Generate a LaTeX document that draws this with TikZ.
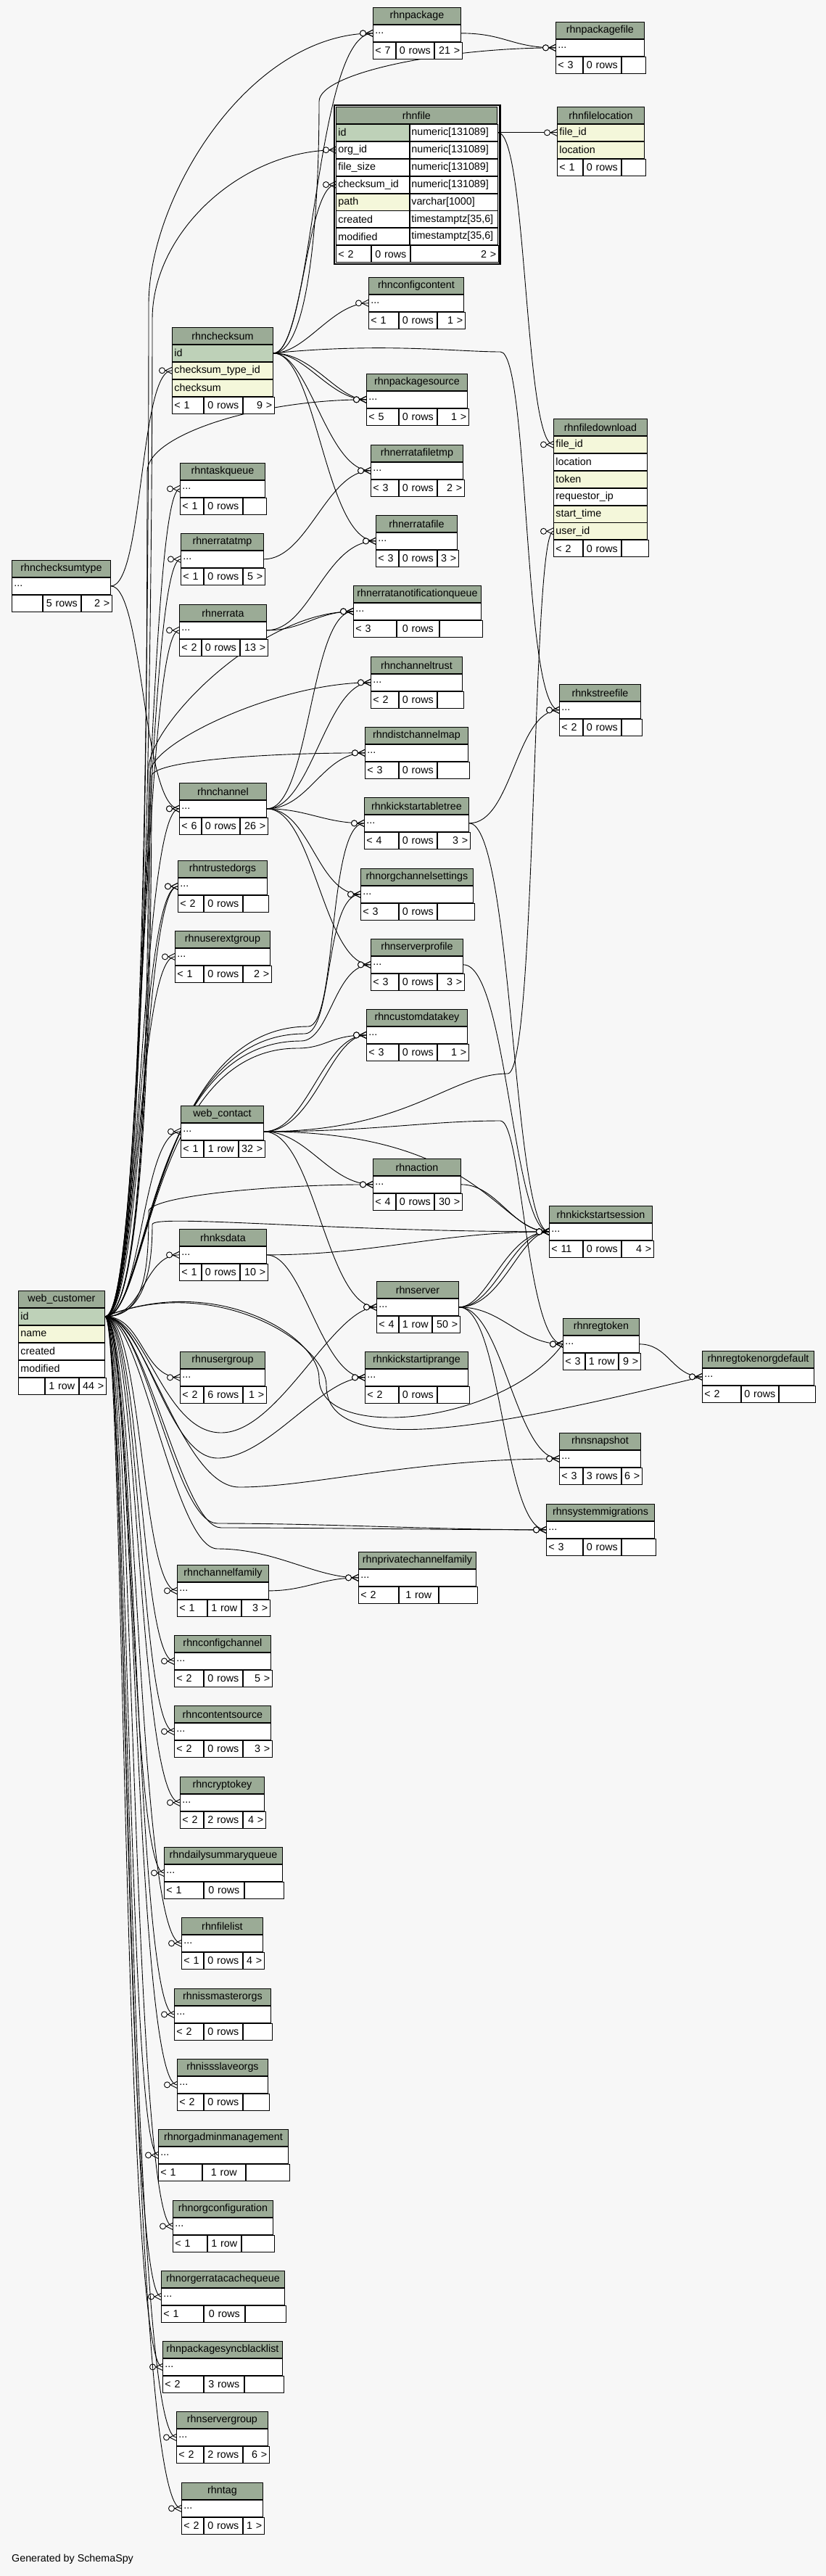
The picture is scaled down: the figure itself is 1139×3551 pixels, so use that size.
\documentclass[tikz,border=0pt]{standalone}
\usepackage{fontspec}
\setmainfont{Liberation Sans}
\definecolor{bgc}{HTML}{F7F7F7}
\definecolor{hd}{HTML}{9BAB96}
\definecolor{pk}{HTML}{BED1B8}
\definecolor{ix}{HTML}{F4F7DA}
\pgfdeclarelayer{bottom}
\pgfdeclarelayer{edges}
\pgfsetlayers{bottom,edges,main}
\newcommand\tfont{\fontsize{14.3pt}{16pt}\selectfont}
\tikzset{
  edge/.style={line width=0.9pt,black},
  hcell/.style={draw,line width=0.9pt,fill=hd,minimum height=23pt,inner sep=0pt,anchor=north west,font=\tfont},
  cell/.style={draw,line width=0.9pt,fill=white,minimum height=23pt,inner xsep=3pt,inner ysep=0pt,anchor=north west,font=\tfont},
  hline/.style={line width=2.2pt},
}
% single-row table: name, x,y, width, title
\newcommand\mtab[4]{%
  \pgfmathsetmacro\tw{#3-6}%
  \node[hcell,minimum width=#3pt] (#1-h) at (#2) {#4};
  \node[cell,text width=\tw pt,align=left] (#1-r) at (#1-h.south west) {...};
  \draw[hline] (#1-h.south west) -- (#1-h.south east);}
% footer: prefix, node above, w1,w2,w3, t1,t2,t3
\newcommand\mfoot[8]{%
  \pgfmathsetmacro\twa{#3-6}\pgfmathsetmacro\twb{#4-6}\pgfmathsetmacro\twc{#5-6}%
  \node[cell,text width=\twa pt,align=left] (#1-fa) at (#2.south west) {#6};
  \node[cell,text width=\twb pt,align=center] (#1-fb) at (#1-fa.north east) {#7};
  \node[cell,text width=\twc pt,align=right] (#1-fc) at (#1-fb.north east) {#8};}
\newcommand\stab[9]{%
  \mtab{#1}{#2}{#3}{#4}%
  \pgfmathsetmacro\wthree{#3-#5-#6}%
  \mfoot{#1}{#1-r}{#5}{#6}{\wthree}{#7}{#8}{#9}}
% row: name, node above, width, fill, text
\newcommand\mrow[5]{%
  \pgfmathsetmacro\tw{#3-6}%
  \node[cell,fill=#4,text width=\tw pt,align=left] (#1) at (#2.south west) {#5};}
\newcommand\frow[4]{%
  \node[cell,fill=#3,text width=95pt,align=left] (#1) at (#2.south west) {#4};}
\newcommand\ftype[2]{%
  \node[cell,inner xsep=2pt,text width=117pt,align=left] (#1t) at (#1.north east) {\mbox{#2}};}
\newcommand\crow[1]{%
  \draw[edge] ([xshift=-9pt]#1) -- ([yshift=4.5pt]#1) ([xshift=-9pt]#1) -- ([yshift=-4.5pt]#1);
  \draw[edge,fill=white] ([xshift=-13.5pt]#1) circle[radius=4pt];}
\newcommand\fk[4]{\draw[edge] (#1) .. controls +(#3) and +(#4) .. (#2); \crow{#2}}
\newcommand\fkw[7]{\draw[edge] (#1) .. controls +(#3) and +(#4) .. (#5) .. controls +(#6) and +(#7) .. (#2); \crow{#2}}
\begin{document}
\begin{tikzpicture}[x=1pt,y=-1pt]
\begin{pgfonlayer}{bottom}
\fill[bgc] (0,0) rectangle (1139,3551);
\end{pgfonlayer}
\useasboundingbox (0,0) rectangle (1139,3551);

% ---------- multi-row tables ----------
\node[hcell,minimum width=222pt] (file-h) at (463,147) {rhnfile};
\frow{file-id}{file-h}{pk}{id}\ftype{file-id}{numeric[131089]}
\frow{file-org}{file-id}{white}{org\_id}\ftype{file-org}{numeric[131089]}
\frow{file-fs}{file-org}{white}{file\_size}\ftype{file-fs}{numeric[131089]}
\frow{file-cks}{file-fs}{white}{checksum\_id}\ftype{file-cks}{numeric[131089]}
\frow{file-path}{file-cks}{ix}{path}\ftype{file-path}{varchar[1000]}
\frow{file-cr}{file-path}{white}{created}\ftype{file-cr}{timestamptz[35,6]}
\frow{file-mod}{file-cr}{white}{modified}\ftype{file-mod}{timestamptz[35,6]}
\mfoot{file}{file-mod}{48}{53}{121}{< 2}{0 rows}{2 >}
\draw[hline] (file-h.south west) -- (file-h.south east);
\draw[line width=2.5pt] ([shift={(-1.8pt,1.8pt)}]file-h.north west) rectangle ([shift={(1.8pt,-1.8pt)}]file-fc.south east);

\node[hcell,minimum width=120pt] (floc-h) at (768,147) {rhnfilelocation};
\mrow{floc-fid}{floc-h}{120}{ix}{file\_id}
\mrow{floc-loc}{floc-fid}{120}{ix}{location}
\mfoot{floc}{floc-loc}{35}{52}{33}{< 1}{0 rows}{}
\draw[hline] (floc-h.south west) -- (floc-h.south east);

\node[hcell,minimum width=139pt] (cks-h) at (237,451) {rhnchecksum};
\mrow{cks-id}{cks-h}{139}{pk}{id}
\mrow{cks-ctid}{cks-id}{139}{ix}{checksum\_type\_id}
\mrow{cks-sum}{cks-ctid}{139}{ix}{checksum}
\mfoot{cks}{cks-sum}{43}{53}{43}{< 1}{0 rows}{9 >}
\draw[hline] (cks-h.south west) -- (cks-h.south east);

\node[hcell,minimum width=129pt] (fdl-h) at (763,577) {rhnfiledownload};
\mrow{fdl-fid}{fdl-h}{129}{ix}{file\_id}
\mrow{fdl-loc}{fdl-fid}{129}{white}{location}
\mrow{fdl-tok}{fdl-loc}{129}{ix}{token}
\mrow{fdl-ip}{fdl-tok}{129}{white}{requestor\_ip}
\mrow{fdl-st}{fdl-ip}{129}{ix}{start\_time}
\mrow{fdl-uid}{fdl-st}{129}{ix}{user\_id}
\mfoot{fdl}{fdl-uid}{40}{52}{37}{< 2}{0 rows}{}
\draw[hline] (fdl-h.south west) -- (fdl-h.south east);

\node[hcell,minimum width=119pt] (wc-h) at (25,1779) {web\_customer};
\mrow{wc-id}{wc-h}{119}{pk}{id}
\mrow{wc-name}{wc-id}{119}{ix}{name}
\mrow{wc-cr}{wc-name}{119}{white}{created}
\mrow{wc-mod}{wc-cr}{119}{white}{modified}
\mfoot{wc}{wc-mod}{36}{46}{37}{}{1 row}{44 >}
\draw[hline] (wc-h.south west) -- (wc-h.south east);

% ---------- single-row tables ----------
\stab{pkg}{514,10}{121}{rhnpackage}{31}{52}{< 7}{0 rows}{21 >}
\stab{pkgfile}{766,30}{122}{rhnpackagefile}{37}{52}{< 3}{0 rows}{}
\stab{cfgc}{508,382}{131}{rhnconfigcontent}{41}{52}{< 1}{0 rows}{1 >}
\stab{pkgsrc}{505,515}{139}{rhnpackagesource}{44}{52}{< 5}{0 rows}{1 >}
\stab{taskq}{248,638}{117}{rhntaskqueue}{32}{53}{< 1}{0 rows}{}
\stab{eftmp}{511,613}{127}{rhnerratafiletmp}{38}{52}{< 3}{0 rows}{2 >}
\stab{efile}{518,710}{112}{rhnerratafile}{31}{52}{< 3}{0 rows}{3 >}
\stab{etmp}{249,735}{114}{rhnerratatmp}{31}{53}{< 1}{0 rows}{5 >}
\stab{cstype}{16,772}{136}{rhnchecksumtype}{42}{52}{}{5 rows}{2 >}
\stab{errata}{247,833}{120}{rhnerrata}{30}{52}{< 2}{0 rows}{13 >}
\stab{enq}{487,807}{176}{rhnerratanotificationqueue}{59}{58}{< 3}{0 rows}{}
\stab{chtrust}{511,905}{126}{rhnchanneltrust}{38}{52}{< 2}{0 rows}{}
\stab{kstf}{771,943}{112}{rhnkstreefile}{32}{52}{< 2}{0 rows}{}
\stab{dcm}{503,1002}{142}{rhndistchannelmap}{46}{52}{< 3}{0 rows}{}
\stab{chan}{247,1079}{120}{rhnchannel}{30}{52}{< 6}{0 rows}{26 >}
\stab{kstree}{502,1099}{144}{rhnkickstartabletree}{47}{52}{< 4}{0 rows}{3 >}
\stab{trusted}{245,1186}{123}{rhntrustedorgs}{35}{53}{< 2}{0 rows}{}
\stab{ocs}{497,1197}{155}{rhnorgchannelsettings}{52}{52}{< 3}{0 rows}{}
\stab{userext}{241,1283}{131}{rhnuserextgroup}{39}{53}{< 1}{0 rows}{2 >}
\stab{sprof}{511,1294}{127}{rhnserverprofile}{38}{52}{< 3}{0 rows}{3 >}
\stab{cdk}{505,1391}{139}{rhncustomdatakey}{44}{52}{< 3}{0 rows}{1 >}
\stab{wct}{249,1524}{114}{web\_contact}{31}{47}{< 1}{1 row}{32 >}
\stab{action}{514,1597}{121}{rhnaction}{31}{52}{< 4}{0 rows}{30 >}
\stab{kss}{757,1662}{142}{rhnkickstartsession}{46}{52}{< 11}{0 rows}{4 >}
\stab{ksdata}{247,1694}{120}{rhnksdata}{30}{52}{< 1}{0 rows}{10 >}
\stab{server}{519,1766}{113}{rhnserver}{30}{45}{< 4}{1 row}{50 >}
\stab{regtok}{776,1817}{105}{rhnregtoken}{30}{45}{< 3}{1 row}{9 >}
\stab{usergroup}{248,1863}{117}{rhnusergroup}{32}{53}{< 2}{6 rows}{1 >}
\stab{ksip}{503,1863}{142}{rhnkickstartiprange}{46}{52}{< 2}{0 rows}{}
\stab{rtod}{968,1862}{154}{rhnregtokenorgdefault}{53}{51}{< 2}{0 rows}{}
\stab{snap}{771,1975}{112}{rhnsnapshot}{32}{52}{< 3}{3 rows}{6 >}
\stab{sysmig}{753,2073}{149}{rhnsystemmigrations}{50}{52}{< 3}{0 rows}{}
\stab{pcf}{494,2139}{162}{rhnprivatechannelfamily}{55}{54}{< 2}{1 row}{}
\stab{chfam}{244,2157}{126}{rhnchannelfamily}{41}{46}{< 1}{1 row}{3 >}
\stab{cfgch}{240,2254}{133}{rhnconfigchannel}{40}{53}{< 2}{0 rows}{5 >}
\stab{csrc}{240,2351}{133}{rhncontentsource}{40}{53}{< 2}{0 rows}{3 >}
\stab{crypto}{248,2449}{116}{rhncryptokey}{32}{53}{< 2}{2 rows}{4 >}
\stab{dsq}{226,2546}{163}{rhndailysummaryqueue}{54}{55}{< 1}{0 rows}{}
\stab{flist}{250,2643}{112}{rhnfilelist}{30}{53}{< 1}{0 rows}{4 >}
\stab{issm}{240,2741}{133}{rhnissmasterorgs}{40}{53}{< 2}{0 rows}{}
\stab{isss}{244,2838}{125}{rhnissslaveorgs}{36}{53}{< 2}{0 rows}{}
\stab{oam}{218,2935}{179}{rhnorgadminmanagement}{60}{59}{< 1}{1 row}{}
\stab{oconf}{238,3033}{138}{rhnorgconfiguration}{47}{46}{< 1}{1 row}{}
\stab{oecq}{222,3130}{170}{rhnorgerratacachequeue}{58}{56}{< 1}{0 rows}{}
\stab{psbl}{224,3227}{165}{rhnpackagesyncblacklist}{56}{55}{< 2}{3 rows}{}
\stab{sgroup}{243,3324}{126}{rhnservergroup}{37}{53}{< 2}{2 rows}{6 >}
\stab{tag}{250,3422}{112}{rhntag}{30}{53}{< 2}{0 rows}{1 >}

\node[anchor=west,inner sep=0pt,font=\tfont] (credit) at (16,3528) {Generated by SchemaSpy};

% ---------- connectors ----------
\begin{pgfonlayer}{edges}
% web_customer -> left column
\fk{wc-id.east}{taskq-r.west}{56,0}{-48,0}
\fk{wc-id.east}{etmp-r.west}{54,0}{-51,0}
\fk{wc-id.east}{errata-r.west}{52,0}{-51,0}
\fk{wc-id.east}{chan-r.west}{50,0}{-53,0}
\fk{wc-id.east}{trusted-r.west}{48,0}{-53,0}
\fk{wc-id.east}{trusted-r.west}{53,0}{-48,0}
\fk{wc-id.east}{userext-r.west}{46,0}{-51,0}
\fk{wc-id.east}{wct-r.west}{51,0}{-54,0}
\fk{wc-id.east}{ksdata-r.west}{54,0}{-49,0}
\fk{wc-id.east}{usergroup-r.west}{52,0}{-52,0}
\fk{wc-id.east}{chfam-r.west}{51,0}{-49,0}
\fk{wc-id.east}{cfgch-r.west}{49,0}{-47,0}
\fk{wc-id.east}{csrc-r.west}{48,0}{-48,0}
\fk{wc-id.east}{crypto-r.west}{46,0}{-58,0}
\fk{wc-id.east}{dsq-r.west}{36,0}{-46,0}
\fk{wc-id.east}{flist-r.west}{44,0}{-62,0}
\fk{wc-id.east}{issm-r.west}{42,0}{-54,0}
\fk{wc-id.east}{isss-r.west}{40,0}{-60,0}
\fk{wc-id.east}{oam-r.west}{32,0}{-42,0}
\fk{wc-id.east}{oconf-r.west}{38,0}{-56,0}
\fk{wc-id.east}{oecq-r.west}{28,0}{-50,0}
\fk{wc-id.east}{psbl-r.west}{26,0}{-54,0}
\fk{wc-id.east}{sgroup-r.west}{32,0}{-67,0}
\fk{wc-id.east}{tag-r.west}{30,0}{-76,0}
% web_customer -> right side
\fkw{wc-id.east}{pkg-r.west}{55,0}{0,400}{205,420}{0,-150}{-170,0}
\fkw{wc-id.east}{file-org.west}{55,0}{0,400}{210,440}{0,-120}{-130,0}
\fkw{wc-id.east}{pkgsrc-r.west}{55,0}{0,300}{203,650}{0,-50}{-150,0}
\fkw{wc-id.east}{enq-r.west}{55,0}{0,300}{205,1060}{0,-60}{-130,0}
\fkw{wc-id.east}{chtrust-r.west}{55,0}{0,300}{207,1065}{0,-40}{-130,0}
\fkw{wc-id.east}{dcm-r.west}{55,0}{0,300}{209,1070}{0,-20}{-150,0}
\fkw{wc-id.east}{kstree-r.west}{60,0}{-215,0}{425,1415}{40,0}{-50,0}
\fkw{wc-id.east}{ocs-r.west}{60,0}{-215,0}{420,1425}{40,0}{-50,0}
\fkw{wc-id.east}{sprof-r.west}{60,0}{-215,0}{415,1435}{40,0}{-50,0}
\fkw{wc-id.east}{cdk-r.west}{60,0}{-205,0}{410,1445}{40,0}{-50,0}
\fkw{wc-id.east}{action-r.west}{55,0}{0,80}{205,1670}{0,-20}{-150,0}
\fkw{wc-id.east}{kss-r.west}{55,0}{0,60}{210,1688}{0,-15}{-300,0}
\fkw{wc-id.east}{server-r.west}{55,0}{-80,0}{305,1975}{80,0}{-60,0}
\fkw{wc-id.east}{ksip-r.west}{55,0}{-70,0}{300,2010}{70,0}{-60,0}
\fkw{wc-id.east}{regtok-r.west}{150,-60}{0,-60}{440,1900}{0,90}{-80,110}
\fkw{wc-id.east}{rtod-r.west}{150,-60}{0,-60}{450,1910}{0,110}{-250,60}
\fkw{wc-id.east}{snap-r.west}{55,0}{-80,0}{330,2050}{100,0}{-200,0}
\fkw{wc-id.east}{sysmig-r.west}{55,0}{-60,0}{300,2100}{150,0}{-150,0}
\fkw{wc-id.east}{sysmig-r.west}{55,0}{-55,0}{305,2106}{150,0}{-150,0}
\fkw{wc-id.east}{pcf-r.west}{50,0}{-60,0}{300,2135}{80,0}{-60,0}
% rhnchecksum
\fk{cks-id.east}{pkg-r.west}{55,0}{-80,0}
\fkw{cks-id.east}{pkgfile-r.west}{50,0}{0,150}{440,140}{0,-40}{-150,0}
\fk{cks-id.east}{file-cks.west}{40,0}{-40,0}
\fk{cks-id.east}{cfgc-r.west}{45,0}{-50,0}
\fk{cks-id.east}{pkgsrc-r.west}{45,0}{-50,0}
\fk{cks-id.east}{pkgsrc-r.west}{55,0}{-40,0}
\fk{cks-id.east}{eftmp-r.west}{50,0}{-60,0}
\fk{cks-id.east}{efile-r.west}{60,0}{-70,0}
\fkw{cks-id.east}{kstf-r.west}{150,-15}{-60,0}{690,485}{40,0}{-50,0}
% rhnfile
\fk{file-idt.east}{floc-fid.west}{30,0}{-30,0}
\fk{file-idt.east}{fdl-fid.west}{40,0}{-40,0}
% others
\fk{pkg-r.east}{pkgfile-r.west}{60,0}{-60,0}
\fk{cstype-r.east}{cks-ctid.west}{45,0}{-45,0}
\fk{cstype-r.east}{chan-r.west}{45,0}{-50,0}
\fk{etmp-r.east}{eftmp-r.west}{60,0}{-60,0}
\fk{errata-r.east}{efile-r.west}{60,0}{-70,0}
\fk{errata-r.east}{enq-r.west}{50,0}{-50,0}
\fk{chan-r.east}{enq-r.west}{60,0}{-60,0}
\fk{chan-r.east}{chtrust-r.west}{62,0}{-62,0}
\fk{chan-r.east}{dcm-r.west}{58,0}{-58,0}
\fk{chan-r.east}{kstree-r.west}{55,0}{-55,0}
\fk{chan-r.east}{ocs-r.west}{60,0}{-60,0}
\fk{chan-r.east}{sprof-r.west}{65,0}{-65,0}
\fk{kstree-r.east}{kstf-r.west}{60,0}{-60,0}
\fk{kstree-r.east}{kss-r.west}{60,0}{-50,0}
\fk{sprof-r.east}{kss-r.west}{60,0}{-50,0}
\fk{action-r.east}{kss-r.west}{50,0}{-50,0}
\fk{ksdata-r.east}{kss-r.west}{150,0}{-150,0}
\fk{ksdata-r.east}{ksip-r.west}{50,0}{-60,0}
\fkw{wct-r.east}{fdl-uid.west}{200,0}{-80,0}{700,1480}{40,0}{-30,0}
\fk{wct-r.east}{cdk-r.west}{60,0}{-60,0}
\fk{wct-r.east}{cdk-r.west}{70,0}{-50,0}
\fk{wct-r.east}{action-r.west}{60,0}{-60,0}
\fk{wct-r.east}{kss-r.west}{300,0}{-70,0}
\fk{wct-r.east}{server-r.west}{70,0}{-70,0}
\fkw{wct-r.east}{regtok-r.west}{150,0}{-100,0}{690,1545}{30,0}{-50,0}
\fk{server-r.east}{kss-r.west}{50,0}{-50,0}
\fk{server-r.east}{kss-r.west}{60,0}{-40,0}
\fk{server-r.east}{kss-r.west}{40,0}{-60,0}
\fk{server-r.east}{regtok-r.west}{60,0}{-60,0}
\fk{server-r.east}{snap-r.west}{60,0}{-60,0}
\fk{server-r.east}{sysmig-r.west}{60,0}{-60,0}
\fk{regtok-r.east}{rtod-r.west}{40,0}{-40,0}
\fk{chfam-r.east}{pcf-r.west}{50,0}{-50,0}
\end{pgfonlayer}
\end{tikzpicture}
\end{document}
